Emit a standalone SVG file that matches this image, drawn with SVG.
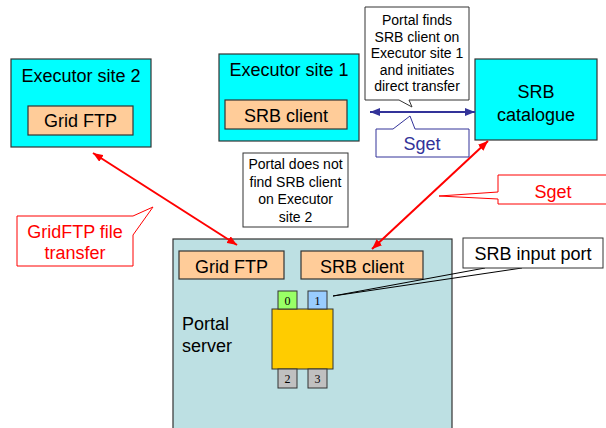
<svg xmlns="http://www.w3.org/2000/svg" width="606" height="428" viewBox="0 0 606 428">
  <style>
    text { font-family: "Liberation Sans", Arial, sans-serif; fill: #000; }
    .site { fill: #00ffff; stroke: #333; stroke-width: 1.2; }
    .svc { fill: #ffcc99; stroke: #333; stroke-width: 1.2; }
    .note { fill: #fff; stroke: #333; stroke-width: 1; }
    .big { font-size: 18px; text-anchor: middle; }
    .small { font-size: 14px; text-anchor: middle; }
    .redcall { fill: #fff; stroke: #ff0000; stroke-width: 1; }
    .bluecall { fill: #fff; stroke: #333399; stroke-width: 1; }
    .port { stroke: #333; stroke-width: 1; }
    .portnum { font-family: "Liberation Serif", "Times New Roman", serif; font-size: 12px; text-anchor: middle; }
    .redline { stroke: #ff0000; stroke-width: 2; fill: none; }
    .blueline { stroke: #333399; stroke-width: 2; fill: none; }
  </style>
  <defs>
    <marker id="headRed" viewBox="0 0 10 8" refX="10" refY="4" markerWidth="10" markerHeight="8" markerUnits="userSpaceOnUse" orient="auto-start-reverse">
      <path d="M0,0 L10,4 L0,8 z" fill="#ff0000"/>
    </marker>
    <marker id="headBlue" viewBox="0 0 10 8" refX="10" refY="4" markerWidth="10" markerHeight="8" markerUnits="userSpaceOnUse" orient="auto-start-reverse">
      <path d="M0,0 L10,4 L0,8 z" fill="#333399"/>
    </marker>
  </defs>

  <!-- Portal server -->
  <g id="portal-server">
    <rect x="173" y="239" width="279" height="200" fill="#bde0e3" stroke="#333" stroke-width="1.2"/>
    <text x="182" y="330" font-size="18">Portal</text>
    <text x="182" y="352" font-size="18">server</text>
  </g>
  <g id="portal-gridftp">
    <rect class="svc" x="179" y="251" width="105" height="28"/>
    <text class="big" x="231.5" y="273">Grid FTP</text>
  </g>
  <g id="portal-srbclient">
    <rect class="svc" x="301" y="251" width="122" height="28"/>
    <text class="big" x="362" y="273">SRB client</text>
  </g>
  <g id="workflow-node">
    <rect x="272" y="309" width="61" height="60" fill="#ffcc00" stroke="#333" stroke-width="1"/>
    <rect class="port" x="278" y="291" width="19" height="18" fill="#99ff66"/>
    <text class="portnum" x="287.5" y="305">0</text>
    <rect class="port" x="308" y="291" width="19" height="18" fill="#99ccff"/>
    <text class="portnum" x="317.5" y="305">1</text>
    <rect class="port" x="278" y="369" width="19" height="19" fill="#c0c0c0"/>
    <text class="portnum" x="287.5" y="383">2</text>
    <rect class="port" x="308" y="369" width="19" height="19" fill="#c0c0c0"/>
    <text class="portnum" x="317.5" y="383">3</text>
  </g>

  <!-- Executor site 2 -->
  <g id="executor-site-2">
    <rect class="site" x="11" y="59" width="140" height="88"/>
    <text class="big" x="81" y="82">Executor site 2</text>
    <rect class="svc" x="28" y="106" width="105" height="29"/>
    <text class="big" x="80.5" y="127">Grid FTP</text>
  </g>

  <!-- Executor site 1 -->
  <g id="executor-site-1">
    <rect class="site" x="219" y="54" width="140" height="87"/>
    <text class="big" x="289" y="76">Executor site 1</text>
    <rect class="svc" x="225" y="100" width="122" height="29"/>
    <text class="big" x="286" y="122">SRB client</text>
  </g>

  <!-- SRB catalogue -->
  <g id="srb-catalogue">
    <rect class="site" x="475" y="59" width="122" height="81"/>
    <text class="big" x="536" y="98">SRB</text>
    <text class="big" x="536" y="121">catalogue</text>
  </g>

  <!-- Connectors -->
  <g id="connectors">
    <line class="redline" x1="93" y1="153" x2="237" y2="245" marker-start="url(#headRed)" marker-end="url(#headRed)"/>
    <line class="redline" x1="372" y1="249" x2="488" y2="141" marker-start="url(#headRed)" marker-end="url(#headRed)"/>
    <line class="blueline" x1="370" y1="112" x2="475" y2="112" marker-start="url(#headBlue)" marker-end="url(#headBlue)"/>
  </g>

  <!-- Notes and callouts -->
  <g id="note-finds">
    <path class="note" d="M365,7 H469 V100 H409 L412,107 L399,100 H365 Z"/>
    <text class="small" x="417" y="25">Portal finds</text>
    <text class="small" x="417" y="42">SRB client on</text>
    <text class="small" x="417" y="58">Executor site 1</text>
    <text class="small" x="417" y="75">and initiates</text>
    <text class="small" x="417" y="91">direct transfer</text>
  </g>

  <g id="note-not-found">
    <rect class="note" x="243" y="153" width="105" height="74"/>
    <text class="small" x="295.5" y="169">Portal does not</text>
    <text class="small" x="295.5" y="187">find SRB client</text>
    <text class="small" x="295.5" y="204">on Executor</text>
    <text class="small" x="295.5" y="222">site 2</text>
  </g>

  <g id="callout-sget-blue">
    <path class="bluecall" d="M376,129 H393 L410,116 L415,129 H469 V157 H376 Z"/>
    <text class="big" x="422" y="150" style="fill:#333399">Sget</text>
  </g>

  <g id="callout-sget-red">
    <path class="redcall" d="M498,175 H612 V204 H498 V199 L439,196 L498,192 Z"/>
    <text class="big" x="553" y="198" style="fill:#ff0000">Sget</text>
  </g>

  <g id="callout-gridftp">
    <path class="redcall" d="M17,216 H133 L153,207 L133,235 V266 H17 Z"/>
    <text class="big" x="75" y="238" style="fill:#ff0000">GridFTP file</text>
    <text class="big" x="75" y="259" style="fill:#ff0000">transfer</text>
  </g>

  <g id="callout-srb-input">
    <polyline points="485,268 333,296 522,268" fill="none" stroke="#000" stroke-width="1"/>
    <rect class="note" x="463" y="238" width="140" height="30"/>
    <text class="big" x="533" y="260">SRB input port</text>
  </g>
</svg>
